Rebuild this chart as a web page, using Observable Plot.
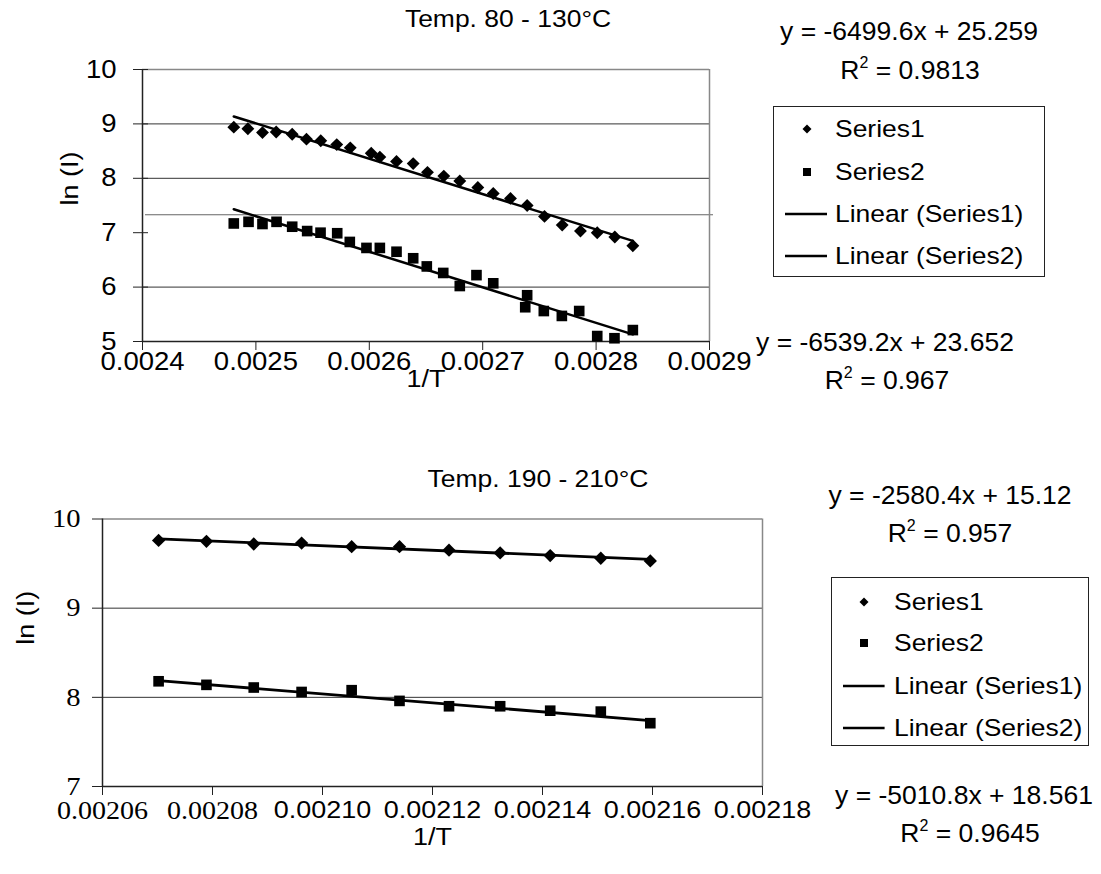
<!DOCTYPE html>
<html>
<head>
<meta charset="utf-8">
<script src="https://cdn.jsdelivr.net/npm/d3@7"></script>
<script src="https://cdn.jsdelivr.net/npm/@observablehq/plot@0.6"></script>
<style>
  html, body { margin: 0; padding: 0; background: #fff; }
  #page { position: relative; width: 1101px; height: 874px; overflow: hidden; background: #fff;
          font-family: "Liberation Sans", Arial, sans-serif; color: #000; }
  .abs { position: absolute; white-space: nowrap; line-height: 1; transform: translate(-50%, -50%); }
  .eq { font-size: 26.5px; }
  .eq sup { font-size: 16px; vertical-align: 0.7em; line-height: 0; }
  .ttl { font-size: 24.5px; transform: translate(-50%, -50%) scaleX(1.08); }
  .legend { position: absolute; border: 1px solid #222; box-sizing: border-box; }
  .legend .item { position: absolute; left: 0; right: 0; height: 0; font-size: 24.5px; }
  .legend .item span { position: absolute; top: 0; transform-origin: 0 50%; transform: translateY(-50%) scaleX(1.08); white-space: nowrap; line-height: 1; }
  .legend .item svg { position: absolute; overflow: visible; }
  svg { overflow: visible; }
</style>
</head>
<body>
<div id="page"></div>
<script>
// ---------------- DATA ----------------
// Top panel: Temp. 80 - 130 °C
const topTitle = "Temp. 80 - 130\u00B0C";
const topX1 = [0.0024805,0.0024929,0.0025058,0.0025179,0.0025320,0.0025446,0.0025572,0.0025713,0.0025832,0.0026017,0.0026093,0.0026240,0.0026387,0.0026513,0.0026657,0.0026798,0.0026957,0.0027093,0.0027245,0.0027392,0.0027545,0.0027701,0.0027862,0.0028010,0.0028165,0.0028324];
const topY1 = [8.94,8.91,8.84,8.85,8.81,8.72,8.69,8.62,8.56,8.46,8.39,8.31,8.27,8.11,8.04,7.95,7.83,7.72,7.63,7.50,7.30,7.14,7.03,7.00,6.92,6.76];
const topX2 = [0.0024805,0.0024935,0.0025058,0.0025182,0.0025320,0.0025452,0.0025570,0.0025717,0.0025828,0.0025975,0.0026093,0.0026240,0.0026387,0.0026507,0.0026652,0.0026798,0.0026945,0.0027093,0.0027392,0.0027375,0.0027539,0.0027698,0.0027851,0.0028010,0.0028162,0.0028324];
const topY2 = [7.17,7.20,7.16,7.20,7.11,7.03,7.00,6.99,6.83,6.72,6.72,6.65,6.53,6.38,6.26,6.02,6.22,6.07,5.85,5.63,5.56,5.47,5.56,5.10,5.06,5.21];
const topFit = [ {m: -6499.6, b: 25.259, r2: "0.9813"}, {m: -6539.2, b: 23.652, r2: "0.967"} ];
const topXTicks = [0.0024,0.0025,0.0026,0.0027,0.0028,0.0029];
const topYTicks = [5,6,7,8,9,10];
const topGridValues = [6,8,9];
const topStrayLine = 7.33;

// Bottom panel: Temp. 190 - 210 °C
const botTitle = "Temp. 190 - 210\u00B0C";
const botX = [0.0020702,0.0020789,0.0020875,0.0020962,0.0021053,0.0021140,0.0021230,0.0021323,0.0021414,0.0021506,0.0021596];
const botY1 = [9.76,9.75,9.72,9.73,9.69,9.69,9.65,9.62,9.59,9.56,9.53];
const botY2 = [8.18,8.14,8.11,8.06,8.08,7.96,7.90,7.90,7.85,7.84,7.71];
const botFit = [ {m: -2580.4, b: 15.12, r2: "0.957"}, {m: -5010.8, b: 18.561, r2: "0.9645"} ];
const botXTicksSerif = [0.00206,0.00208];
const botXTicksSans = [0.00210,0.00212,0.00214,0.00216,0.00218];
const botYTicks = [7,8,9,10];
const botGridValues = [8,9];

const legendLabels = ["Series1","Series2","Linear (Series1)","Linear (Series2)"];
const xTitle = "1/T";
const yTitle = "ln (I)";

// ---------------- HELPERS ----------------
const SANS = "Liberation Sans, Arial, sans-serif";
const SERIF = "Liberation Serif, Times New Roman, serif";
const STRETCH = 1.1;
const zip = (xs, ys) => xs.map((x, i) => ({x, y: ys[i]}));
function trend(xs, fit) {
  const [x0, x1] = d3.extent(xs);
  return [x0, x1].map(x => ({x, y: fit.m * x + fit.b}));
}
const fmtEq = f => `y = ${f.m}x + ${f.b}`;
const page = document.getElementById("page");
function addText(cls, html, cx, cy) {
  const d = document.createElement("div");
  d.className = "abs " + cls;
  d.innerHTML = html;
  d.style.left = cx + "px";
  d.style.top = cy + "px";
  page.appendChild(d);
}
// widen the svg texts horizontally around their anchor point (keeps y / em offsets intact)
function stretchTexts(svg, s) {
  svg.querySelectorAll("text").forEach(t => {
    const xs = t.getAttribute("x");
    if (xs != null && !/em$/.test(xs.trim())) {
      const xv = parseFloat(xs);
      if (!isNaN(xv)) t.setAttribute("x", xv / s);
    }
    const tr = t.getAttribute("transform") || "";
    t.setAttribute("transform", `${tr} scale(${s},1)`.trim());
  });
}
function addLegend(left, top, w, h, rows, symX, lineX0, lineX1, textX) {
  const box = document.createElement("div");
  box.className = "legend";
  Object.assign(box.style, {left: left + "px", top: top + "px", width: w + "px", height: h + "px"});
  legendLabels.forEach((lab, i) => {
    const it = document.createElement("div");
    it.className = "item";
    it.style.top = rows[i] + "px";
    let sym;
    if (i === 0) sym = `<svg style="left:${symX - 5}px;top:-5px" width="10" height="10"><path d="M5,0.5L9.5,5L5,9.5L0.5,5Z" fill="#000"/></svg>`;
    else if (i === 1) sym = `<svg style="left:${symX - 4}px;top:-4px" width="8" height="8"><rect x="0" y="0" width="8" height="8" fill="#000"/></svg>`;
    else sym = `<svg style="left:${lineX0}px;top:-2px" width="${lineX1 - lineX0}" height="4"><line x1="0" y1="2" x2="${lineX1 - lineX0}" y2="2" stroke="#000" stroke-width="2.5"/></svg>`;
    it.innerHTML = sym + `<span style="left:${textX}px">${lab}</span>`;
    box.appendChild(it);
  });
  page.appendChild(box);
}

// ---------------- TOP PANEL ----------------
const topS1 = zip(topX1, topY1), topS2 = zip(topX2, topY2);
const topPlot = Plot.plot({
  width: 1101, height: 440,
  marginLeft: 142, marginRight: 392, marginTop: 69, marginBottom: 99,
  x: {domain: [topXTicks[0], topXTicks[topXTicks.length - 1]]},
  y: {domain: [topYTicks[0], topYTicks[topYTicks.length - 1]]},
  style: {fontFamily: SANS, background: "transparent", overflow: "visible"},
  marks: [
    Plot.gridY(topGridValues, {stroke: "#333", strokeOpacity: 1, strokeWidth: 1}),
    Plot.ruleY([topStrayLine], {stroke: "#666", strokeWidth: 1.2, insetLeft: 3, insetRight: -4}),
    Plot.ruleY([topYTicks[topYTicks.length - 1]], {stroke: "#888", strokeWidth: 1.5}),
    Plot.ruleX([topXTicks[topXTicks.length - 1]], {stroke: "#888", strokeWidth: 1.5}),
    Plot.axisY(topYTicks, {tickSize: 9, tickPadding: 17, fontSize: 25, tickFormat: d => String(d), label: null, stroke: "#222"}),
    Plot.axisY(topYTicks, {tickSize: -6, tickFormat: () => "", label: null, stroke: "#222"}),
    Plot.axisX(topXTicks, {tickSize: 9, tickPadding: 2, fontSize: 25, tickFormat: d => d.toFixed(4), label: null, stroke: "#222"}),
    Plot.ruleX([topXTicks[0]], {stroke: "#222", strokeWidth: 1.5}),
    Plot.ruleY([topYTicks[0]], {stroke: "#222", strokeWidth: 1.5}),
    Plot.line(trend(topX1, topFit[0]), {x: "x", y: "y", stroke: "#000", strokeWidth: 2.5}),
    Plot.line(trend(topX2, topFit[1]), {x: "x", y: "y", stroke: "#000", strokeWidth: 2.5}),
    Plot.dot(topS1, {x: "x", y: "y", symbol: "diamond2", r: 5.8, fill: "#000", stroke: "none"}),
    Plot.dot(topS2, {x: "x", y: "y", symbol: "square", r: 6, fill: "#000", stroke: "none"}),
    Plot.text([xTitle], {frameAnchor: "bottom", dy: 45, fontSize: 24.5, fill: "#000"}),
    Plot.text([yTitle], {frameAnchor: "left", dx: -72, rotate: -90, fontSize: 24.5, fill: "#000"})
  ]
});
stretchTexts(topPlot, STRETCH);
topPlot.style.position = "absolute";
topPlot.style.left = "0px";
topPlot.style.top = "0px";
page.appendChild(topPlot);

// ---------------- BOTTOM PANEL ----------------
const botS1 = zip(botX, botY1), botS2 = zip(botX, botY2);
const allBotTicks = botXTicksSerif.concat(botXTicksSans);
const botPlot = Plot.plot({
  width: 1101, height: 434,
  marginLeft: 102, marginRight: 339, marginTop: 78.5, marginBottom: 88,
  x: {domain: [allBotTicks[0], allBotTicks[allBotTicks.length - 1]]},
  y: {domain: [botYTicks[0], botYTicks[botYTicks.length - 1]]},
  style: {fontFamily: SANS, background: "transparent", overflow: "visible"},
  marks: [
    Plot.gridY(botGridValues, {stroke: "#333", strokeOpacity: 1, strokeWidth: 1}),
    Plot.ruleY([botYTicks[botYTicks.length - 1]], {stroke: "#888", strokeWidth: 1.5}),
    Plot.ruleX([allBotTicks[allBotTicks.length - 1]], {stroke: "#888", strokeWidth: 1.5}),
    Plot.axisY(botYTicks, {tickSize: 10, tickPadding: 12, fontSize: 26, fontFamily: SERIF, tickFormat: d => String(d), label: null, stroke: "#222"}),
    Plot.axisX(botXTicksSerif, {tickSize: 9, tickPadding: 5, fontSize: 25.5, fontFamily: SERIF, tickFormat: d => d.toFixed(5), label: null, stroke: "#222"}),
    Plot.axisX(botXTicksSans, {tickSize: 9, tickPadding: 5, fontSize: 24.5, fontFamily: SANS, tickFormat: d => d.toFixed(5), label: null, stroke: "#222"}),
    Plot.ruleX([allBotTicks[0]], {stroke: "#222", strokeWidth: 1.5}),
    Plot.ruleY([botYTicks[0]], {stroke: "#222", strokeWidth: 1.5}),
    Plot.line(trend(botX, botFit[0]), {x: "x", y: "y", stroke: "#000", strokeWidth: 2.8}),
    Plot.line(trend(botX, botFit[1]), {x: "x", y: "y", stroke: "#000", strokeWidth: 2.8}),
    Plot.dot(botS1, {x: "x", y: "y", symbol: "diamond2", r: 6, fill: "#000", stroke: "none"}),
    Plot.dot(botS2, {x: "x", y: "y", symbol: "square", r: 6, fill: "#000", stroke: "none"}),
    Plot.text([xTitle], {frameAnchor: "bottom", dy: 58, fontSize: 24.5, fill: "#000"}),
    Plot.text([yTitle], {frameAnchor: "left", dx: -76, dy: -8, rotate: -90, fontSize: 24.5, fill: "#000"})
  ]
});
stretchTexts(botPlot, STRETCH);
botPlot.style.position = "absolute";
botPlot.style.left = "0px";
botPlot.style.top = "440px";
page.appendChild(botPlot);

// ---------------- TITLES, EQUATIONS, LEGENDS ----------------
addText("ttl", topTitle, 508, 19);
addText("ttl", botTitle, 538, 479);

addText("eq", fmtEq(topFit[0]), 909, 31);
addText("eq", `R<sup>2</sup> = ${topFit[0].r2}`, 910, 70);
addText("eq", fmtEq(topFit[1]), 885, 342);
addText("eq", `R<sup>2</sup> = ${topFit[1].r2}`, 887, 380);

addText("eq", fmtEq(botFit[0]), 950, 495);
addText("eq", `R<sup>2</sup> = ${botFit[0].r2}`, 950, 533);
addText("eq", fmtEq(botFit[1]), 964, 795);
addText("eq", `R<sup>2</sup> = ${botFit[1].r2}`, 970, 833);

addLegend(773, 106, 272, 171, [22.3, 64.7, 107.3, 149], 33, 11, 53, 61);
addLegend(831, 577, 258, 169, [23.7, 65.3, 108, 149.7], 32.3, 10.7, 52.3, 62.3);
</script>
</body>
</html>
